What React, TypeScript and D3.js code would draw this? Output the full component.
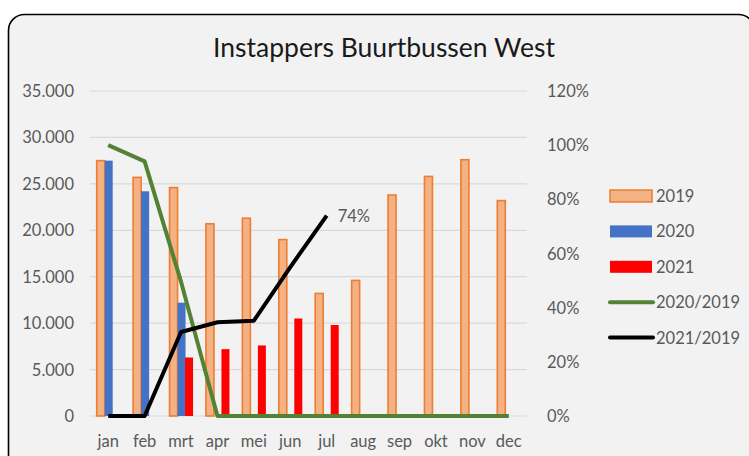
import React from 'react';
import * as d3 from 'd3';

const months = ['jan', 'feb', 'mrt', 'apr', 'mei', 'jun', 'jul', 'aug', 'sep', 'okt', 'nov', 'dec'];
const v2019 = [27500, 25700, 24600, 20700, 21300, 19000, 13200, 14600, 23800, 25800, 27600, 23200];
const v2020: (number | null)[] = [27500, 24200, 12200, null, null, null, null, null, null, null, null, null];
const v2021: (number | null)[] = [null, null, 6300, 7200, 7600, 10500, 9800, null, null, null, null, null];
const r2020 = [1.0, 0.94, 0.496, 0, 0, 0, 0, 0, 0, 0, 0, 0];
const r2021 = [0, 0, 0.31, 0.346, 0.352, 0.55, 0.74];
const leftTicks = [0, 5000, 10000, 15000, 20000, 25000, 30000, 35000];
const rightTicks = [0, 0.2, 0.4, 0.6, 0.8, 1.0, 1.2];
const title = 'Instappers Buurtbussen West';
const lastLabel = '74%';

const W = 749;
const H = 456;
const FONT = 'Lato, "Open Sans", sans-serif';
const C2019 = '#f4b183';
const C2019S = '#ed7d31';
const C2020 = '#4472c4';
const C2021 = '#ff0000';
const CG = '#548235';
const CB = '#000000';
const TXT = '#595959';

const locale = d3.formatLocale({ decimal: ',', thousands: '.', grouping: [3], currency: ['', ''] });
const fmtL = locale.format(',d');
const fmtR = d3.format('.0%');

export default function App() {
  const x = d3.scaleBand<string>().domain(months).range([90, 527]).padding(0);
  const y = d3.scaleLinear().domain([0, 35000]).range([416, 91]);
  const y2 = d3.scaleLinear().domain([0, 1.2]).range([416, 91]);
  const bw = 8;
  const step = 7.5;
  const cx = (m: string) => (x(m) as number) + x.bandwidth() / 2;

  const line2020 = d3.line<number>().x((_, i) => cx(months[i])).y((d) => y2(d));
  const line2021 = d3.line<number>().x((_, i) => cx(months[i])).y((d) => y2(d));

  const series = [
    { vals: v2019 as (number | null)[], off: -step, fill: C2019, stroke: C2019S },
    { vals: v2020, off: 0.5, fill: C2020, stroke: 'none' },
    { vals: v2021, off: step + 0.5, fill: C2021, stroke: 'none' },
  ];

  const legend = [
    { label: '2019', type: 'bar', fill: C2019, stroke: C2019S },
    { label: '2020', type: 'bar', fill: C2020, stroke: 'none' },
    { label: '2021', type: 'bar', fill: C2021, stroke: 'none' },
    { label: '2020/2019', type: 'line', fill: CG, stroke: CG },
    { label: '2021/2019', type: 'line', fill: CB, stroke: CB },
  ];

  const lastIdx = r2021.length - 1;

  return (
    <svg width={W} height={H} style={{ position: 'absolute', left: 0, top: 0, background: '#fff' }} fontFamily={FONT}>
      <rect x={8.5} y={14.5} width={746} height={458} rx={16} ry={16} fill="#f2f2f2" stroke="#000" strokeWidth={1.6} />
      <text x={384} y={56.5} textAnchor="middle" fontSize={26.5} fill="#1a1a1a">{title}</text>

      {leftTicks.map((t) => (
        <g key={t}>
          <line x1={90} x2={527} y1={y(t)} y2={y(t)} stroke="#d9d9d9" strokeWidth={1.2} />
          <text x={74} y={y(t)} textAnchor="end" dominantBaseline="central" fontSize={16.5} fill={TXT}>{fmtL(t)}</text>
        </g>
      ))}
      {rightTicks.map((t) => (
        <text key={t} x={547} y={y2(t)} dominantBaseline="central" fontSize={16.5} fill={TXT}>{fmtR(t)}</text>
      ))}
      {months.map((m) => (
        <text key={m} x={cx(m)} y={447} textAnchor="middle" fontSize={16.5} fill={TXT}>{m}</text>
      ))}

      {series.map((s, si) => (
        <g key={si}>
          {s.vals.map((v, i) => {
            if (v == null || v === 0) return null;
            const bx = cx(months[i]) + s.off - bw / 2;
            return (
              <rect key={i} x={bx} y={y(v)} width={bw} height={y(0) - y(v)} fill={s.fill}
                stroke={s.stroke} strokeWidth={s.stroke === 'none' ? 0 : 1.6} />
            );
          })}
        </g>
      ))}

      <path d={line2020(r2020) || ''} fill="none" stroke={CG} strokeWidth={4} strokeLinejoin="round" />
      <path d={line2021(r2021) || ''} fill="none" stroke={CB} strokeWidth={4} strokeLinejoin="round" />
      <text x={cx(months[lastIdx]) + 11} y={y2(r2021[lastIdx])} dominantBaseline="central" fontSize={16.5} fill={TXT}>{lastLabel}</text>

      {legend.map((l, i) => {
        const ly = 196 + i * 35.4;
        return (
          <g key={l.label}>
            {l.type === 'bar' ? (
              <rect x={610} y={ly - 6} width={42} height={12} fill={l.fill} stroke={l.stroke} strokeWidth={l.stroke === 'none' ? 0 : 1.5} />
            ) : (
              <line x1={610} x2={653} y1={ly} y2={ly} stroke={l.stroke} strokeWidth={4} strokeLinecap="round" />
            )}
            <text x={656} y={ly} dominantBaseline="central" fontSize={16.5} fill={TXT}>{l.label}</text>
          </g>
        );
      })}
    </svg>
  );
}
